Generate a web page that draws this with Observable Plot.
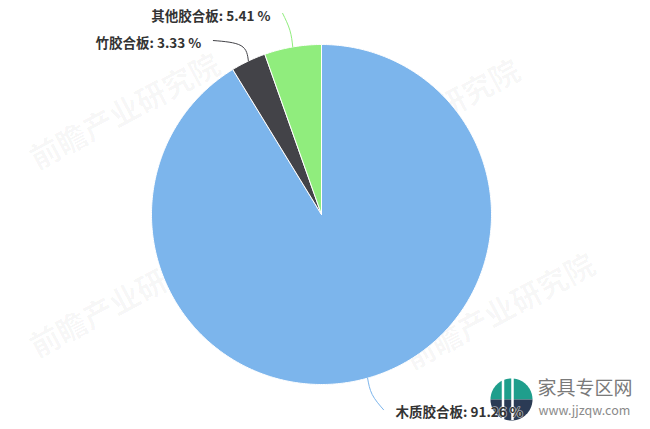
<!DOCTYPE html>
<html><head><meta charset="utf-8">
<script src="https://cdn.jsdelivr.net/npm/d3@7"></script>
<script src="https://cdn.jsdelivr.net/npm/@observablehq/plot@0.6"></script>
<style>body{margin:0;background:#fff;overflow:hidden;} svg{display:block;}</style>
</head><body><div id="chart"></div>
<script>
// ---- data ----
const categories = ["木质胶合板", "竹胶合板", "其他胶合板"];
const shares = [91.26, 3.33, 5.41];
const colors = ["#7cb5ec", "#434348", "#90ed7d"];
const watermarkText = "前瞻产业研究院";
const brandName = "家具专区网";
const brandUrl = "www.jjzqw.com";

// ---- layout ----
const W = 650, H = 429, cx = 321, cy = 214, R = 170;
const polar = (r, a) => [cx + r * Math.sin(a), cy - r * Math.cos(a)];
const arcs = d3.pie().sort(null).value(d => d)(shares);

const slicePts = [];
arcs.forEach((a, i) => {
  const n = Math.max(4, Math.ceil((a.endAngle - a.startAngle) / 0.01));
  slicePts.push({cat: categories[i], x: cx, y: cy});
  for (let k = 0; k <= n; k++) {
    const t = a.startAngle + (a.endAngle - a.startAngle) * k / n;
    const [x, y] = polar(R, t);
    slicePts.push({cat: categories[i], x, y});
  }
  slicePts.push({cat: categories[i], x: cx, y: cy});
});

const nudge = [-1.9, -6.4, -1.2].map(d => d * Math.PI / 180);
const leaderPts = [], labels = [];
arcs.forEach((a, i) => {
  const m = (a.startAngle + a.endAngle) / 2;
  const side = Math.sin(m) >= 0 ? 1 : -1;
  const p0 = polar(R, m), p1 = polar(R * 1.1, m), p2 = polar(R * 1.205, m + nudge[i]);
  [p0, p1, p2].forEach(p => leaderPts.push({cat: categories[i], x: p[0], y: p[1]}));
  labels.push({cat: categories[i], side, text: `${categories[i]}: ${shares[i].toFixed(2)} %`,
    x: p2[0] + side * 12, y: p2[1] + 3});
});

const wm = [[125, 112], [425, 118], [125, 300], [500, 312]].map(([x, y]) => ({x, y}));

// logo icon
const lx = 511, ly = 399, lr = 21;
const topHalf = [], botHalf = [];
for (let k = 0; k <= 40; k++) {
  const t = -Math.PI / 2 + Math.PI * k / 40;
  topHalf.push({x: lx + lr * Math.sin(t), y: ly - lr * Math.cos(t)});
  botHalf.push({x: lx + lr * Math.sin(t), y: ly + lr * Math.cos(t)});
}

const font = "'Noto Sans CJK SC', 'Noto Sans', sans-serif";
const labelStyle = {x: "x", y: "y", text: "text", fontSize: 13.5, fontWeight: "bold", fill: "#333", letterSpacing: 0.4};
const chart = Plot.plot({
  width: W, height: H,
  margin: 0,
  style: {background: "#fff", fontFamily: font},
  x: {domain: [0, W], range: [0, W], axis: null},
  y: {domain: [0, H], range: [0, H], axis: null},
  color: {domain: categories, range: colors},
  marks: [
    Plot.text(wm, {x: "x", y: "y", text: () => watermarkText, rotate: -28, fontSize: 30, fontWeight: "bold",
      fill: "#000", fillOpacity: 0.035}),
    Plot.line(slicePts, {x: "x", y: "y", z: "cat", fill: "cat", stroke: "#fff", strokeWidth: 1, strokeLinejoin: "round"}),
    Plot.line(leaderPts, {x: "x", y: "y", z: "cat", stroke: "cat", strokeWidth: 1, curve: "natural"}),
    Plot.line(topHalf, {x: "x", y: "y", fill: "#1f9e8c", stroke: null}),
    Plot.line(botHalf, {x: "x", y: "y", fill: "#2b3b55", stroke: null}),
    Plot.ruleX([lx - 8.5, lx + 1], {y1: ly - lr, y2: ly + lr, stroke: "#fff", strokeWidth: 2.5}),
    Plot.text([{x: 537, y: 388}], {x: "x", y: "y", text: () => brandName, textAnchor: "start", fontSize: 19, fill: "#7a7a7a"}),
    Plot.text([{x: 538, y: 410}], {x: "x", y: "y", text: () => brandUrl, textAnchor: "start", fontSize: 12.5, fill: "#8a8a8a", letterSpacing: 0.5}),
    Plot.text(labels.filter(d => d.side < 0), {...labelStyle, textAnchor: "end"}),
    Plot.text(labels.filter(d => d.side > 0), {...labelStyle, textAnchor: "start", stroke: "#fff", strokeWidth: 1.5, strokeOpacity: 0.6})
  ]
});
document.getElementById("chart").appendChild(chart);
</script>
</body></html>
